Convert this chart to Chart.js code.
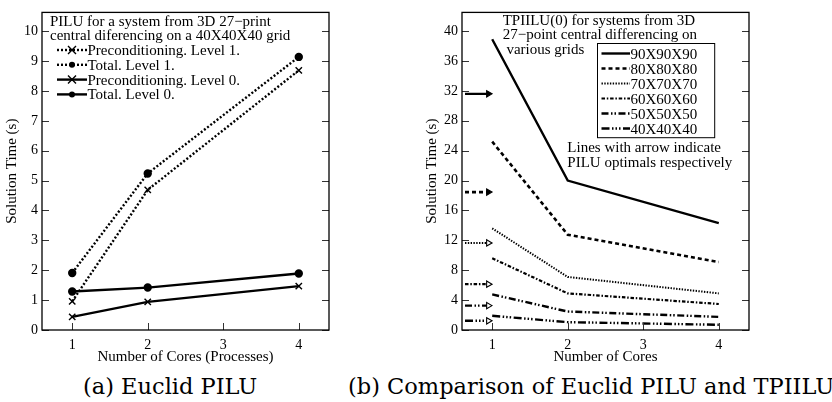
<!DOCTYPE html>
<html><head><meta charset="utf-8">
<script src="https://cdn.jsdelivr.net/npm/chart.js@4/dist/chart.umd.min.js"></script>
<style>
html,body{margin:0;padding:0;background:#fff;width:832px;height:402px;overflow:hidden;}
canvas{position:absolute;top:0;}
#ca{left:0;}
#cb{left:420px;}
.cap{position:absolute;font-family:"DejaVu Serif",serif;font-size:22.5px;line-height:22px;white-space:nowrap;color:#000;top:375px;}
</style></head><body>
<canvas id="ca" width="420" height="366"></canvas>
<canvas id="cb" width="412" height="366"></canvas>
<div class="cap" style="left:83px">(a) Euclid PILU</div>
<div class="cap" style="left:348px">(b) Comparison of Euclid PILU and TPIILU</div>
<script>
// ---------- data: chart (a) ----------
const coresA = [1, 2, 4];
const precLevel1 = [0.96, 4.69, 8.69];
const totalLevel1 = [1.91, 5.24, 9.14];
const precLevel0 = [0.44, 0.94, 1.47];
const totalLevel0 = [1.29, 1.42, 1.89];
const seriesNamesA = ['Preconditioning. Level 1.', 'Total. Level 1.', 'Preconditioning. Level 0.', 'Total. Level 0.'];
const titleA = ['PILU for a system from 3D 27\u2212print', 'central diferencing on a 40X40X40 grid'];
const xTickValues = [1, 2, 3, 4];
const yTicksA = [0, 1, 2, 3, 4, 5, 6, 7, 8, 9, 10];

// ---------- data: chart (b) ----------
const coresB = [1, 2, 4];
const gridNames = ['90X90X90', '80X80X80', '70X70X70', '60X60X60', '50X50X50', '40X40X40'];
const time90 = [38.9, 20.0, 14.3];
const time80 = [25.2, 12.75, 9.09];
const time70 = [13.6, 7.1, 4.9];
const time60 = [9.6, 4.9, 3.48];
const time50 = [4.76, 2.47, 1.76];
const time40 = [1.9, 1.05, 0.7];
const piluOptimal = [31.6, 18.45, 11.65, 6.13, 3.26, 1.23];
const titleB = ['TPIILU(0) for systems from 3D', '27\u2212point central differencing on', ' various grids'];
const noteB = ['Lines with arrow indicate', 'PILU optimals respectively'];
const yTicksB = [0, 4, 8, 12, 16, 20, 24, 28, 32, 36, 40];

// ---------- styles ----------
const FONT = "'Liberation Serif', 'Times New Roman', serif";
const dashB = [[], [4, 3], [1.4, 1.4], [3.5, 1.8, 1.5, 1.8], [7, 2.5, 1.5, 2, 1.5, 2.5], [8, 2.5, 1.5, 2, 1.5, 2, 1.5, 2.5]];
const widthB = [2.4, 2.6, 2.0, 2.2, 2.4, 2.4];
const arrowFill = ['#000', '#000', '#fff', '#fff', '#fff', '#fff'];

function pts(xs, ys) { return xs.map((x, i) => ({ x: x, y: ys[i] })); }

const frameTicks = {
  id: 'frameTicks',
  afterDatasetsDraw(chart) {
    const { ctx, chartArea: a, scales } = chart;
    ctx.save();
    ctx.strokeStyle = '#333';
    ctx.lineWidth = 1;
    scales.y.ticks.forEach(t => {
      const y = Math.round(scales.y.getPixelForValue(t.value)) + 0.5;
      ctx.beginPath();
      ctx.moveTo(a.left, y); ctx.lineTo(a.left + 7, y);
      ctx.moveTo(a.right - 7, y); ctx.lineTo(a.right, y);
      ctx.stroke();
    });
    scales.x.ticks.forEach(t => {
      const x = Math.round(scales.x.getPixelForValue(t.value)) + 0.5;
      ctx.beginPath();
      ctx.moveTo(x, a.bottom); ctx.lineTo(x, a.bottom - 7);
      ctx.stroke();
    });
    ctx.strokeStyle = '#000';
    ctx.lineWidth = 1.3;
    ctx.strokeRect(a.left, a.top, a.right - a.left, a.bottom - a.top);
    ctx.restore();
  }
};

function drawSample(ctx, x0, x1, y, dash, w, marker) {
  ctx.save();
  ctx.strokeStyle = '#000';
  ctx.lineWidth = w;
  ctx.setLineDash(dash);
  ctx.beginPath(); ctx.moveTo(x0, y); ctx.lineTo(x1, y); ctx.stroke();
  ctx.setLineDash([]);
  const mx = (x0 + x1) / 2;
  if (marker === 'x') {
    ctx.lineWidth = 1.4;
    ctx.beginPath();
    ctx.moveTo(mx - 4, y - 4); ctx.lineTo(mx + 4, y + 4);
    ctx.moveTo(mx - 4, y + 4); ctx.lineTo(mx + 4, y - 4);
    ctx.stroke();
  } else if (marker === 'o') {
    ctx.fillStyle = '#000';
    ctx.beginPath(); ctx.arc(mx, y, 3, 0, Math.PI * 2); ctx.fill();
  }
  ctx.restore();
}

const legendA = {
  id: 'legendA',
  afterDraw(chart) {
    const ctx = chart.ctx;
    ctx.save();
    ctx.font = '15px ' + FONT;
    ctx.fillStyle = '#000';
    ctx.textBaseline = 'alphabetic';
    ctx.fillText(titleA[0], 50, 25.5);
    ctx.fillText(titleA[1], 50, 40);
    const dashes = [[2, 2], [2, 2], [], []];
    const marks = ['x', 'o', 'x', 'o'];
    const widths = [2.4, 2.4, 2.4, 2.4];
    seriesNamesA.forEach((n, i) => {
      const yb = 55 + i * 14.8;
      drawSample(ctx, 57, 87, yb - 5, dashes[i], widths[i], marks[i]);
      ctx.fillText(n, 87.5, yb);
    });
    ctx.restore();
  }
};

const legendB = {
  id: 'legendB',
  afterDraw(chart) {
    const ctx = chart.ctx;
    ctx.save();
    ctx.font = '15px ' + FONT;
    ctx.fillStyle = '#000';
    ctx.fillText(titleB[0], 82.7, 25);
    ctx.fillText(titleB[1], 82.7, 39.3);
    ctx.fillText(titleB[2], 82.7, 53.5);
    ctx.fillText(noteB[0], 147.3, 151.5);
    ctx.fillText(noteB[1], 147.3, 166.5);
    // legend box
    ctx.strokeStyle = '#000';
    ctx.lineWidth = 1;
    ctx.fillStyle = '#fff';
    ctx.fillRect(177.3, 43.3, 117.4, 94.4);
    ctx.strokeRect(177.5, 43.5, 117.2, 94.2);
    ctx.fillStyle = '#000';
    gridNames.forEach((n, i) => {
      const yb = 58.5 + i * 15;
      drawSample(ctx, 181.5, 210, yb - 5, dashB[i], widthB[i], null);
      ctx.fillText(n, 210.5, yb);
    });
    ctx.restore();
  }
};

const axisCommon = (min, max, tickVals, title, tickPad, fit, extraTitle) => ({
  type: 'linear', min: min, max: max,
  grid: { display: false, drawTicks: false },
  border: { display: false },
  afterBuildTicks: s => { s.ticks = tickVals.map(v => ({ value: v })); },
  ticks: { color: '#000', font: { family: FONT, size: 14 }, padding: tickPad, autoSkip: false },
  title: Object.assign({ display: true, text: title, color: '#000', font: { family: FONT, size: 15 } }, extraTitle),
  afterFit: fit
});

Chart.defaults.animation = false;

new Chart(document.getElementById('ca'), {
  type: 'line',
  data: {
    datasets: [
      { label: seriesNamesA[0], data: pts(coresA, precLevel1), borderColor: '#000', borderWidth: 2.4, borderDash: [2, 2], pointStyle: 'crossRot', pointRadius: 4.5, pointBorderWidth: 1.4, pointBorderColor: '#000', fill: false },
      { label: seriesNamesA[1], data: pts(coresA, totalLevel1), borderColor: '#000', borderWidth: 2.4, borderDash: [2, 2], pointStyle: 'circle', pointRadius: 3, pointBackgroundColor: '#000', pointBorderColor: '#000', fill: false },
      { label: seriesNamesA[2], data: pts(coresA, precLevel0), borderColor: '#000', borderWidth: 2.4, pointStyle: 'crossRot', pointRadius: 4.5, pointBorderWidth: 1.4, pointBorderColor: '#000', fill: false },
      { label: seriesNamesA[3], data: pts(coresA, totalLevel0), borderColor: '#000', borderWidth: 2.4, pointStyle: 'circle', pointRadius: 3, pointBackgroundColor: '#000', pointBorderColor: '#000', fill: false }
    ]
  },
  options: {
    responsive: false, animation: false,
    layout: { padding: { left: 0, right: 91, top: 9, bottom: 0 } },
    plugins: { legend: { display: false }, tooltip: { enabled: false } },
    scales: {
      x: axisCommon(0.6, 4.4, xTickValues, 'Number of Cores (Processes)', 6.5, s => { s.height = 36; }, { padding: { top: 0, bottom: 0 } }),
      y: axisCommon(0, 10.63, yTicksA, 'Solution Time (s)', 4, s => { s.width = 42; }, { padding: { top: 3, bottom: 0 } })
    }
  },
  plugins: [frameTicks, legendA]
});

const seriesB = [time90, time80, time70, time60, time50, time40];
const dsB = [];
seriesB.forEach((vals, i) => {
  dsB.push({ label: gridNames[i], data: pts(coresB, vals), borderColor: '#000', borderWidth: widthB[i], borderDash: dashB[i], pointRadius: 0, fill: false });
});
piluOptimal.forEach((v, i) => {
  dsB.push({ label: gridNames[i] + ' PILU', data: [{ x: 0.64, y: v }, { x: 0.95, y: v }], borderColor: '#000', borderWidth: widthB[i], borderDash: dashB[i], pointStyle: 'triangle', pointRotation: 90, pointRadius: [0, 3.6], pointBorderWidth: 1.1, pointBorderColor: '#000', pointBackgroundColor: arrowFill[i], fill: false });
});

new Chart(document.getElementById('cb'), {
  type: 'line',
  data: { datasets: dsB },
  options: {
    responsive: false, animation: false,
    layout: { padding: { left: 0, right: 83, top: 9, bottom: 0 } },
    plugins: { legend: { display: false }, tooltip: { enabled: false } },
    scales: {
      x: axisCommon(0.6, 4.4, xTickValues, 'Number of Cores', 6.5, s => { s.height = 36; }, { padding: { top: 0, bottom: 0 } }),
      y: axisCommon(0, 42.5, yTicksB, 'Solution Time (s)', 4, s => { s.width = 42; }, { padding: { top: 3, bottom: 0 } })
    }
  },
  plugins: [frameTicks, legendB]
});
</script>
</body></html>
